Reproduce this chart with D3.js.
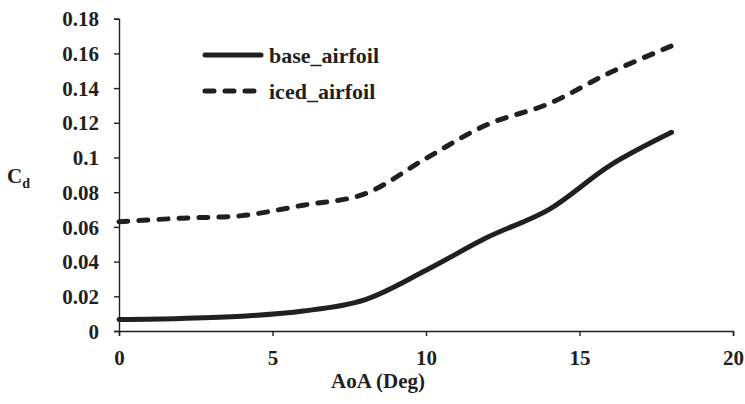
<!DOCTYPE html>
<html>
<head>
<meta charset="utf-8">
<script src="https://cdn.jsdelivr.net/npm/d3@7"></script>
<style>
  html, body { margin: 0; padding: 0; background: #fff; }
  svg { display: block; }
</style>
</head>
<body>
<svg id="chart" width="745" height="404"></svg>
<script>
// ---- data ----
const aoa = [0, 2, 4, 6, 8, 10, 12, 14, 16, 18];
const baseAirfoil = [0.0066, 0.0072, 0.0085, 0.0115, 0.018, 0.035, 0.054, 0.070, 0.0955, 0.1145];
const icedAirfoil = [0.063, 0.065, 0.0665, 0.0725, 0.079, 0.0995, 0.119, 0.131, 0.149, 0.1643];
const seriesNames = ["base_airfoil", "iced_airfoil"];
const xTicks = [0, 5, 10, 15, 20];
const yTicks = [0, 0.02, 0.04, 0.06, 0.08, 0.1, 0.12, 0.14, 0.16, 0.18];
const xTitle = "AoA (Deg)";

// ---- layout ----
const svg = d3.select("#chart");
const ink = "#231f20";
const serif = "'Liberation Serif'";
const plotLeft = 119, plotRight = 733, plotTop = 18.7, plotBottom = 331;

const styleText = (sel, size) => sel.style("font-family", serif).style("font-weight", "bold")
  .style("font-size", size + "px").style("fill", ink);

const x = d3.scaleLinear().domain([0, 20]).range([plotLeft, plotRight]);
const y = d3.scaleLinear().domain([0, 0.18]).range([plotBottom, plotTop]);

// axes
const xAxis = d3.axisBottom(x).tickValues(xTicks).tickSize(5).tickSizeOuter(5).tickFormat(d3.format("d"));
const yAxis = d3.axisLeft(y).tickValues(yTicks).tickSize(5).tickSizeOuter(5).tickPadding(15)
  .tickFormat(d => d === 0 ? "0" : String(+d.toFixed(2)));

const gx = svg.append("g").attr("transform", `translate(0,${plotBottom})`).call(xAxis);
const gy = svg.append("g").attr("transform", `translate(${plotLeft},0)`).call(yAxis);

[gx, gy].forEach(g => {
  g.selectAll("path.domain").attr("stroke", ink).attr("stroke-width", 1.4);
  g.selectAll(".tick line").attr("stroke", ink).attr("stroke-width", 1.4);
  styleText(g.selectAll("text"), 21);
});
gx.selectAll(".tick text").attr("y", 34).attr("dy", "0");
gy.selectAll(".tick text").attr("dy", "0.34em");

// axis titles
styleText(svg.append("text").attr("x", 378).attr("y", 388).attr("text-anchor", "middle"), 21).text(xTitle);
const cd = styleText(svg.append("text").attr("x", 7).attr("y", 183), 21);
cd.append("tspan").text("C");
cd.append("tspan").style("font-size", "14px").attr("dy", 5).text("d");

// lines
const line = d3.line().x(d => x(d[0])).y(d => y(d[1])).curve(d3.curveCatmullRom.alpha(0.5));
const baseData = aoa.map((a, i) => [a, baseAirfoil[i]]);
const icedData = aoa.map((a, i) => [a, icedAirfoil[i]]);

svg.append("path").datum(baseData).attr("d", line)
  .attr("fill", "none").attr("stroke", ink).attr("stroke-width", 5).attr("stroke-linecap", "round");
svg.append("path").datum(icedData).attr("d", line)
  .attr("fill", "none").attr("stroke", ink).attr("stroke-width", 5)
  .attr("stroke-linecap", "round").attr("stroke-dasharray", "9,11");

// legend
const legend = svg.append("g");
const legendItems = [
  { name: seriesNames[0], dash: null, y: 55 },
  { name: seriesNames[1], dash: "9,11", y: 91 }
];
legendItems.forEach(it => {
  const l = legend.append("line").attr("x1", 205).attr("x2", 261).attr("y1", it.y).attr("y2", it.y)
    .attr("stroke", ink).attr("stroke-width", 5).attr("stroke-linecap", "round");
  if (it.dash) l.attr("stroke-dasharray", it.dash);
  styleText(legend.append("text").attr("x", 269).attr("y", it.y + 8), 22).text(it.name);
});
</script>
</body>
</html>
